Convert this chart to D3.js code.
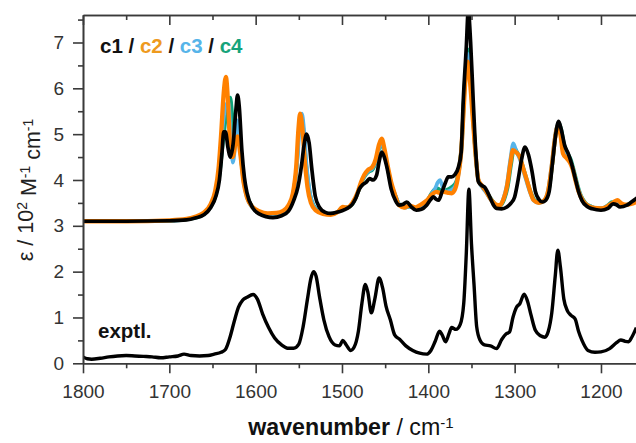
<!DOCTYPE html>
<html>
<head>
<meta charset="utf-8">
<script src="https://cdn.jsdelivr.net/npm/d3@7"></script>
<style>
  html, body { margin: 0; padding: 0; background: #fff; }
  svg { display: block; font-family: "Liberation Sans", Arial, sans-serif; }
</style>
</head>
<body>
<svg id="chart" width="636" height="443"></svg>
<script>
// IR spectra: experimental trace and four computed conformers (offset by +3.1)
// Each point is [wavenumber / cm^-1, epsilon / 10^2 M^-1 cm^-1]
const exptl = [
  [1800,0.14],[1795,0.10],[1790,0.09],[1780,0.11],[1770,0.14],[1760,0.16],[1750,0.17],[1740,0.16],
  [1730,0.15],[1720,0.14],[1710,0.12],[1700,0.14],[1690,0.16],[1683,0.20],[1675,0.17],[1665,0.16],
  [1655,0.17],[1648,0.20],[1640,0.24],[1635,0.30],[1630,0.55],[1625,0.90],[1620,1.22],[1615,1.38],
  [1610,1.44],[1603,1.50],[1598,1.40],[1592,1.08],[1585,0.78],[1578,0.55],[1570,0.40],[1563,0.33],
  [1556,0.33],[1550,0.42],[1545,0.80],[1540,1.40],[1536,1.85],[1533,2.00],[1530,1.90],[1526,1.45],
  [1521,0.95],[1515,0.58],[1508,0.40],[1503,0.38],[1499,0.50],[1495,0.40],[1490,0.28],[1486,0.35],
  [1481,0.70],[1477,1.30],[1473,1.72],[1470,1.55],[1466,1.10],[1462,1.40],[1457,1.86],[1453,1.65],
  [1449,1.25],[1444,0.95],[1439,0.62],[1433,0.52],[1426,0.38],[1418,0.28],[1410,0.22],[1402,0.20],
  [1397,0.28],[1392,0.48],[1387,0.70],[1384,0.62],[1380,0.47],[1376,0.65],[1373,0.78],[1368,0.74],
  [1363,0.85],[1359,1.30],[1356,2.40],[1353,3.80],[1350,2.60],[1347,1.70],[1344,0.80],[1340,0.50],
  [1335,0.40],[1328,0.38],[1321,0.32],[1315,0.52],[1310,0.64],[1306,0.68],[1302,1.00],[1298,1.22],
  [1294,1.30],[1289,1.51],[1285,1.35],[1281,1.05],[1276,0.72],[1270,0.60],[1265,0.57],[1261,0.70],
  [1257,1.10],[1253,1.90],[1250,2.47],[1247,2.10],[1243,1.40],[1239,1.15],[1235,1.05],[1230,0.97],
  [1226,0.70],[1222,0.50],[1215,0.28],[1207,0.24],[1200,0.25],[1190,0.32],[1182,0.45],[1177,0.51],
  [1172,0.48],[1168,0.47],[1164,0.58],[1159,0.78]
];

const c1 = [
  [1800,3.10],[1750,3.10],[1700,3.11],[1680,3.13],[1670,3.17],[1660,3.24],[1652,3.40],[1646,3.65],
  [1642,4.00],[1639,4.60],[1637,5.05],[1635,5.05],[1632,4.70],[1629.5,4.50],[1626,4.80],[1623,5.50],
  [1621,5.85],[1619,5.60],[1616,4.65],[1613,4.05],[1610,3.72],[1603,3.38],[1596,3.26],[1588,3.20],
  [1580,3.18],[1570,3.22],[1562,3.32],[1556,3.55],[1551,3.85],[1547,4.30],[1544,4.75],[1541,5.00],
  [1538,4.80],[1535,4.25],[1531,3.65],[1526,3.40],[1520,3.30],[1513,3.27],[1505,3.30],[1500,3.33],
  [1494,3.38],[1488,3.47],[1484,3.60],[1480,3.80],[1476,3.90],[1472,3.95],[1468,4.03],[1464,4.00],
  [1460,4.10],[1457,4.40],[1454,4.61],[1451,4.50],[1448,4.28],[1443,3.80],[1438,3.55],[1434,3.45],
  [1429,3.47],[1425,3.52],[1420,3.42],[1414,3.34],[1408,3.36],[1402,3.45],[1397,3.58],[1394,3.63],
  [1391,3.58],[1388,3.56],[1384,3.75],[1380,3.95],[1377,4.07],[1373,4.07],[1369,4.12],[1365,4.29],
  [1362,4.60],[1359.5,5.74],[1356,6.90],[1353.7,7.70],[1351,7.00],[1348,5.74],[1345,4.60],[1342,3.96],
  [1338,3.88],[1334.5,3.84],[1331,3.72],[1328.5,3.62],[1325,3.47],[1321,3.38],[1315,3.37],[1309,3.41],
  [1304,3.50],[1300,3.63],[1296,4.00],[1292,4.45],[1288,4.72],[1284,4.55],[1280,4.20],[1276,3.75],
  [1272,3.58],[1268,3.52],[1264,3.56],[1260,3.75],[1256,4.40],[1252,5.05],[1249,5.28],[1246,5.10],
  [1242,4.75],[1238,4.58],[1234,4.35],[1230,4.05],[1226,3.75],[1222,3.55],[1216,3.42],[1210,3.37],
  [1200,3.34],[1192,3.38],[1186,3.48],[1182,3.46],[1178,3.41],[1170,3.45],[1164,3.53],[1159,3.60]
];

const c2 = [
  [1800,3.10],[1750,3.10],[1700,3.12],[1680,3.15],[1670,3.20],[1660,3.29],[1652,3.48],[1647,3.75],
  [1643,4.25],[1640,5.00],[1637,5.90],[1634.5,6.25],[1632,5.70],[1629.5,4.75],[1626.5,4.50],[1623.5,4.80],
  [1621,4.95],[1618,4.60],[1614,3.95],[1610,3.62],[1604,3.42],[1596,3.32],[1586,3.27],[1576,3.28],
  [1568,3.33],[1562,3.45],[1557,3.70],[1553,4.30],[1550.5,5.10],[1548.5,5.45],[1546,5.15],[1543,4.40],
  [1540,3.85],[1536,3.50],[1530,3.33],[1522,3.26],[1513,3.24],[1505,3.30],[1499,3.41],[1494,3.40],
  [1488,3.50],[1482,3.72],[1478,3.95],[1474,4.12],[1470,4.22],[1465,4.28],[1461,4.45],[1457,4.78],
  [1454,4.90],[1451,4.70],[1447,4.30],[1443,3.95],[1439,3.70],[1434,3.45],[1428,3.40],[1422,3.44],
  [1415,3.40],[1408,3.47],[1402,3.55],[1396,3.68],[1391,3.74],[1386,3.72],[1382,3.74],[1377,3.72],
  [1373,3.71],[1369,3.80],[1365,4.14],[1362,4.60],[1359.5,5.38],[1357,6.20],[1354.5,6.58],[1352,6.20],
  [1348.6,5.38],[1345,4.50],[1342,4.00],[1338,3.88],[1334,3.78],[1327,3.56],[1321,3.46],[1317,3.45],
  [1313,3.58],[1309,3.85],[1305,4.35],[1302,4.65],[1298,4.60],[1294,4.50],[1290,4.25],[1286,4.00],
  [1282,3.75],[1278,3.56],[1272,3.50],[1266,3.55],[1261,3.78],[1257,4.30],[1253.5,4.87],[1250,5.18],
  [1247,5.00],[1244,4.58],[1240,4.48],[1236,4.38],[1233,4.25],[1229,3.95],[1226,3.75],[1221,3.55],
  [1216,3.45],[1208,3.39],[1200,3.38],[1193,3.42],[1189,3.47],[1185,3.52],[1181,3.56],[1177,3.50],
  [1172,3.46],[1165,3.48],[1159,3.52]
];

const c3 = [
  [1800,3.10],[1700,3.11],[1670,3.18],[1660,3.26],[1652,3.45],[1646,3.75],[1642,4.30],[1638,5.20],
  [1635,5.60],[1631.5,5.70],[1629,5.00],[1626.5,4.38],[1624,4.70],[1621.5,5.30],[1619,5.00],[1615,4.10],
  [1611,3.68],[1604,3.40],[1595,3.29],[1584,3.25],[1574,3.27],[1566,3.33],[1560,3.48],[1555,3.85],
  [1551,4.60],[1548.5,5.30],[1546.5,5.45],[1544,5.10],[1541,4.30],[1537,3.70],[1532,3.40],[1524,3.28],
  [1514,3.25],[1505,3.30],[1499,3.40],[1493,3.40],[1487,3.52],[1481,3.75],[1477,3.98],[1473,4.12],
  [1469,4.20],[1465,4.25],[1461,4.40],[1457,4.70],[1454,4.82],[1451,4.62],[1447,4.25],[1443,3.92],
  [1438,3.66],[1433,3.45],[1427,3.40],[1421,3.42],[1414,3.38],[1407,3.45],[1401,3.55],[1396,3.70],
  [1392,3.82],[1389,3.95],[1386.5,4.00],[1383.5,3.85],[1380.5,3.74],[1376,3.76],[1372,3.80],[1368,3.90],
  [1364,4.25],[1361,4.80],[1358.5,5.80],[1356,6.50],[1354,6.75],[1351.5,6.30],[1348.5,5.40],[1345,4.50],
  [1342,4.00],[1338,3.85],[1334,3.75],[1327,3.55],[1321,3.45],[1317,3.44],[1313,3.60],[1309,3.90],
  [1305,4.45],[1301.5,4.80],[1298,4.62],[1294,4.45],[1290,4.20],[1286,3.95],[1282,3.72],[1278,3.55],
  [1272,3.50],[1266,3.55],[1261,3.80],[1257,4.35],[1253.5,4.92],[1250,5.20],[1247,5.02],[1244,4.65],
  [1240,4.52],[1236,4.42],[1232,4.20],[1228,3.90],[1224,3.68],[1219,3.50],[1212,3.42],[1204,3.38],
  [1196,3.40],[1190,3.45],[1185,3.50],[1181,3.50],[1176,3.46],[1170,3.46],[1164,3.50],[1159,3.54]
];

const c4 = [
  [1800,3.10],[1700,3.11],[1670,3.17],[1660,3.25],[1652,3.42],[1646,3.68],[1642,4.10],[1638,4.80],
  [1635,5.30],[1632,5.70],[1629.5,5.80],[1627,5.40],[1624.5,4.90],[1622,5.00],[1619.5,4.90],[1616,4.30],
  [1612,3.80],[1606,3.48],[1598,3.32],[1588,3.25],[1578,3.24],[1568,3.30],[1561,3.45],[1556,3.75],
  [1552,4.40],[1549.5,5.20],[1547,5.40],[1545,5.15],[1542,4.45],[1538,3.80],[1533,3.45],[1525,3.30],
  [1514,3.26],[1505,3.30],[1499,3.40],[1493,3.40],[1487,3.50],[1481,3.75],[1477,3.96],[1473,4.10],
  [1469,4.18],[1465,4.22],[1461,4.38],[1457,4.68],[1454,4.80],[1451,4.60],[1447,4.25],[1443,3.90],
  [1438,3.65],[1433,3.45],[1427,3.40],[1421,3.42],[1414,3.38],[1407,3.45],[1401,3.56],[1396,3.72],
  [1392,3.80],[1389,3.82],[1386,3.78],[1382,3.76],[1377,3.80],[1372,3.86],[1368,3.95],[1364,4.30],
  [1361,4.90],[1358.5,5.90],[1356,6.60],[1354,6.85],[1351.5,6.40],[1348.5,5.45],[1345,4.50],[1342,4.00],
  [1338,3.87],[1334,3.78],[1327,3.58],[1321,3.46],[1316,3.45],[1312,3.58],[1308,3.85],[1304,4.35],
  [1300.5,4.70],[1297,4.60],[1293,4.45],[1289,4.20],[1285,3.95],[1281,3.72],[1277,3.56],[1271,3.51],
  [1265,3.56],[1260,3.82],[1256,4.40],[1252.5,5.00],[1249,5.25],[1246,5.10],[1243,4.80],[1239,4.60],
  [1235,4.45],[1231,4.18],[1227,3.88],[1223,3.65],[1218,3.50],[1211,3.42],[1203,3.38],[1196,3.40],
  [1191,3.46],[1187.5,3.52],[1184,3.48],[1178,3.44],[1170,3.46],[1164,3.51],[1159,3.55]
];

// Axis ticks
const xMajorTicks = [1800, 1700, 1600, 1500, 1400, 1300, 1200];
const xMinorTicks = [1750, 1650, 1550, 1450, 1350, 1250, 1150];
const yMajorTicks = [0, 1, 2, 3, 4, 5, 6, 7];
const yMinorTicks = [0.5, 1.5, 2.5, 3.5, 4.5, 5.5, 6.5, 7.5];

// Series drawn back to front, calculated c1 on top
const seriesNames = ["c4", "c3", "c2", "c1"];
const seriesData = { c1, c2, c3, c4 };
const lineColors = { c1: "#000000", c2: "#FF8000", c3: "#56B4E9", c4: "#0FA27A" };
const textColors = { c1: "#111111", c2: "#EE9A1E", c3: "#56B4E9", c4: "#16A37A" };
const lineWidths = { c1: 3.7, c2: 4.3, c3: 3.7, c4: 3.7 };

const svg = d3.select("#chart");
const plotLeft = 83, plotTop = 15, plotBottom = 363.3;
const axisColor = "#3a3a3a";

const x = d3.scaleLinear().domain([1800, 1150]).range([plotLeft, plotLeft + 650 * 0.8633]);
const y = d3.scaleLinear().domain([0, 7.6]).range([plotBottom, plotTop]);

svg.append("defs").append("clipPath").attr("id", "plotclip")
  .append("rect").attr("x", plotLeft).attr("y", plotTop)
  .attr("width", x(1150) - plotLeft).attr("height", plotBottom - plotTop);

const line = d3.line()
  .x(d => x(d[0]))
  .y(d => y(d[1]))
  .curve(d3.curveMonotoneX);

const plot = svg.append("g").attr("clip-path", "url(#plotclip)");

plot.append("path")
  .datum(exptl)
  .attr("d", line)
  .attr("fill", "none")
  .attr("stroke", "#000")
  .attr("stroke-width", 3.4)
  .attr("stroke-linejoin", "round");

seriesNames.forEach(name => {
  plot.append("path")
    .datum(seriesData[name])
    .attr("d", line)
    .attr("fill", "none")
    .attr("stroke", lineColors[name])
    .attr("stroke-width", lineWidths[name])
    .attr("stroke-linejoin", "round")
    .attr("stroke-linecap", "round");
});

// Axes
function styleAxis(g) {
  g.selectAll("path.domain").attr("stroke", axisColor).attr("stroke-width", 1.6);
  g.selectAll(".tick line").attr("stroke", axisColor).attr("stroke-width", 1.6);
  g.selectAll(".tick text")
    .attr("fill", "#333")
    .style("font-size", "19px")
    .style("font-family", "'Liberation Sans', Arial, sans-serif");
}

// bottom
svg.append("g")
  .attr("transform", `translate(0,${plotBottom})`)
  .call(d3.axisBottom(x).tickValues(xMajorTicks).tickSize(10).tickSizeOuter(0)
        .tickPadding(11).tickFormat(d3.format("d")))
  .call(styleAxis);
svg.append("g")
  .attr("transform", `translate(0,${plotBottom})`)
  .call(d3.axisBottom(x).tickValues(xMinorTicks).tickSize(5).tickSizeOuter(0).tickFormat(""))
  .call(styleAxis);

// top (ticks pointing inward)
svg.append("g")
  .attr("transform", `translate(0,${plotTop})`)
  .call(d3.axisTop(x).tickValues(xMajorTicks).tickSize(-10).tickSizeOuter(0).tickFormat(""))
  .call(styleAxis);
svg.append("g")
  .attr("transform", `translate(0,${plotTop})`)
  .call(d3.axisTop(x).tickValues(xMinorTicks).tickSize(-5).tickSizeOuter(0).tickFormat(""))
  .call(styleAxis);

// left
svg.append("g")
  .attr("transform", `translate(${plotLeft},0)`)
  .call(d3.axisLeft(y).tickValues(yMajorTicks).tickSize(10).tickSizeOuter(0).tickPadding(9))
  .call(styleAxis);
svg.append("g")
  .attr("transform", `translate(${plotLeft},0)`)
  .call(d3.axisLeft(y).tickValues(yMinorTicks).tickSize(5).tickSizeOuter(0).tickFormat(""))
  .call(styleAxis);

// Legend
const legend = svg.append("text")
  .attr("x", 100).attr("y", 53)
  .style("font-size", "20.5px").style("font-weight", "bold");
["c1", "c2", "c3", "c4"].forEach((name, i) => {
  if (i > 0) legend.append("tspan").attr("fill", "#111").text(" / ");
  legend.append("tspan").attr("fill", textColors[name]).text(name);
});

svg.append("text")
  .attr("x", 98).attr("y", 338)
  .style("font-size", "20.5px").style("font-weight", "bold")
  .attr("fill", "#111")
  .text("exptl.");

// Axis titles
const xt = svg.append("text")
  .attr("x", 351).attr("y", 435)
  .attr("text-anchor", "middle")
  .attr("fill", "#111")
  .style("font-size", "23.2px");
xt.append("tspan").style("font-weight", "bold").text("wavenumber");
xt.append("tspan").text(" / cm");
xt.append("tspan").attr("dy", "-0.45em").style("font-size", "0.65em").text("-1");

const yt = svg.append("text")
  .attr("transform", "translate(33,190) rotate(-90)")
  .attr("text-anchor", "middle")
  .attr("fill", "#222")
  .style("font-size", "21.5px");
yt.append("tspan").text("\u03B5 / 10");
yt.append("tspan").attr("dy", "-0.45em").style("font-size", "0.65em").text("2");
yt.append("tspan").attr("dy", "0.45em").text(" M");
yt.append("tspan").attr("dy", "-0.45em").style("font-size", "0.65em").text("-1");
yt.append("tspan").attr("dy", "0.45em").text(" cm");
yt.append("tspan").attr("dy", "-0.45em").style("font-size", "0.65em").text("-1");
</script>
</body>
</html>
